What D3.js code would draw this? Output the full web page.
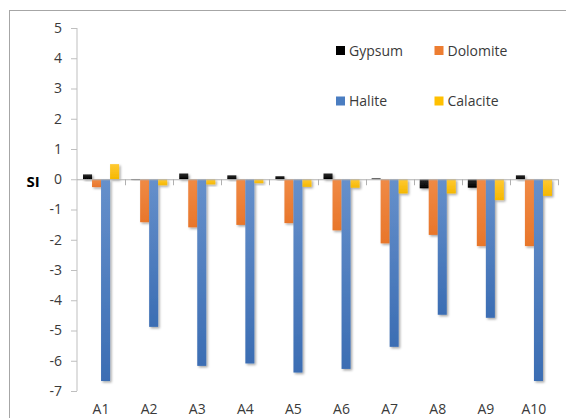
<!DOCTYPE html>
<html>
<head>
<meta charset="utf-8">
<script src="https://cdn.jsdelivr.net/npm/d3@7"></script>
<style>
  html, body { margin: 0; padding: 0; background: #fff; }
  svg { display: block; font-family: "Open Sans", "Noto Sans", sans-serif; }
</style>
</head>
<body>
<svg id="chart" width="566" height="418"></svg>
<script>
// Saturation index per sample site
const categories = ["A1", "A2", "A3", "A4", "A5", "A6", "A7", "A8", "A9", "A10"];
const seriesNames = ["Gypsum", "Dolomite", "Halite", "Calacite"];
const gypsum   = [0.16, -0.02, 0.19, 0.13, 0.10, 0.19, 0.03, -0.30, -0.28, 0.13];
const dolomite = [-0.26, -1.42, -1.59, -1.51, -1.45, -1.69, -2.12, -1.84, -2.21, -2.21];
const halite   = [-6.67, -4.88, -6.17, -6.09, -6.39, -6.27, -5.54, -4.48, -4.58, -6.67];
const calacite = [0.50, -0.20, -0.17, -0.13, -0.25, -0.28, -0.47, -0.47, -0.69, -0.55];
const yTicks = [5, 4, 3, 2, 1, 0, -1, -2, -3, -4, -5, -6, -7];

const seriesValues = [gypsum, dolomite, halite, calacite];
const colors = {
  Gypsum:   ["#2a2a2a", "#000000"],
  Dolomite: ["#f08a45", "#e8762b"],
  Halite:   ["#6690cb", "#3b6db3"],
  Calacite: ["#ffc933", "#f5b800"]
};
const legendColors = { Gypsum: "#000000", Dolomite: "#ed7d31", Halite: "#4a7dc1", Calacite: "#ffc000" };

const svg = d3.select("#chart");
const plot = { left: 77, right: 558, top: 28, bottom: 391 };

// outer chart frame
svg.append("rect")
  .attr("x", 9.5).attr("y", 10.5)
  .attr("width", 700).attr("height", 600)
  .attr("fill", "none").attr("stroke", "#a6a6a6").attr("stroke-width", 1);

const defs = svg.append("defs");
const shadow = defs.append("filter").attr("id", "shadow")
  .attr("x", "-50%").attr("y", "-50%").attr("width", "200%").attr("height", "200%");
shadow.append("feDropShadow")
  .attr("dx", 1.5).attr("dy", 1.5).attr("stdDeviation", 1.2)
  .attr("flood-color", "#000").attr("flood-opacity", 0.35);

seriesNames.forEach((name, i) => {
  const g = defs.append("linearGradient").attr("id", "grad" + i)
    .attr("x1", 0).attr("y1", 0).attr("x2", 0).attr("y2", 1);
  g.append("stop").attr("offset", "0%").attr("stop-color", colors[name][0]);
  g.append("stop").attr("offset", "100%").attr("stop-color", colors[name][1]);
});

const x0 = d3.scaleBand().domain(categories)
  .range([plot.left, plot.right]).paddingInner(0.25).paddingOuter(0.125);
const x1 = d3.scaleBand().domain(seriesNames).range([0, x0.bandwidth()]);
const y = d3.scaleLinear().domain([-7, 5]).range([plot.bottom, plot.top]);

// y axis
const yAxis = svg.append("g")
  .attr("transform", `translate(${plot.left},0)`)
  .call(d3.axisLeft(y).tickValues(yTicks).tickFormat(d3.format("d")).tickSize(6).tickPadding(9));
yAxis.select(".domain").attr("stroke", "#bfbfbf").attr("d", `M0,${y(5)}V${y(-7)}`);
yAxis.selectAll(".tick line").attr("stroke", "#bfbfbf");
yAxis.selectAll(".tick text")
  .attr("fill", "#3a3a3a").attr("font-size", 14)
  .attr("font-family", "'Open Sans', sans-serif")
  .text(d => d < 0 ? "-" + Math.abs(d) : d);

// bars
const groups = svg.append("g").selectAll("g")
  .data(categories)
  .join("g")
  .attr("transform", d => `translate(${x0(d)},0)`);

groups.selectAll("rect")
  .data((c, ci) => seriesNames.map((s, si) => ({ s, si, v: seriesValues[si][ci] })))
  .join("rect")
  .attr("x", d => x1(d.s))
  .attr("width", x1.bandwidth())
  .attr("y", d => y(Math.max(0, d.v)))
  .attr("height", d => Math.max(0.8, Math.abs(y(d.v) - y(0))))
  .attr("fill", d => `url(#grad${d.si})`)
  .attr("filter", "url(#shadow)");

// zero axis with category separators
const xAxisG = svg.append("g");
xAxisG.append("line")
  .attr("x1", plot.left).attr("x2", plot.right)
  .attr("y1", y(0) + 0.5).attr("y2", y(0) + 0.5)
  .attr("stroke", "#b0b0b0");
const step = x0.step();
xAxisG.selectAll("line.sep")
  .data(d3.range(1, categories.length + 1))
  .join("line").attr("class", "sep")
  .attr("x1", i => Math.round(plot.left + i * step) + 0.5)
  .attr("x2", i => Math.round(plot.left + i * step) + 0.5)
  .attr("y1", y(0)).attr("y2", y(0) + 6)
  .attr("stroke", "#b0b0b0");

// category labels
svg.append("g").selectAll("text")
  .data(categories)
  .join("text")
  .attr("x", d => x0(d) + x0.bandwidth() / 2)
  .attr("y", 414)
  .attr("text-anchor", "middle")
  .attr("font-size", 14)
  .attr("fill", "#3a3a3a")
  .text(d => d);

// y axis title
svg.append("text")
  .attr("x", 33).attr("y", 186.5)
  .attr("text-anchor", "middle")
  .attr("font-size", 15).attr("font-weight", "bold")
  .attr("fill", "#000")
  .text("SI");

// legend (two rows)
const legendPos = [
  { x: 336, y: 46 }, { x: 434.5, y: 46 },
  { x: 336, y: 96.5 }, { x: 434.5, y: 96.5 }
];
const legend = svg.append("g").selectAll("g")
  .data(seriesNames)
  .join("g")
  .attr("transform", (d, i) => `translate(${legendPos[i].x},${legendPos[i].y})`);
legend.append("rect")
  .attr("width", 9).attr("height", 9)
  .attr("fill", d => legendColors[d]);
legend.append("text")
  .attr("x", 13).attr("y", 9.5)
  .attr("font-size", 14)
  .attr("fill", "#3a3a3a")
  .text(d => d);
</script>
</body>
</html>
